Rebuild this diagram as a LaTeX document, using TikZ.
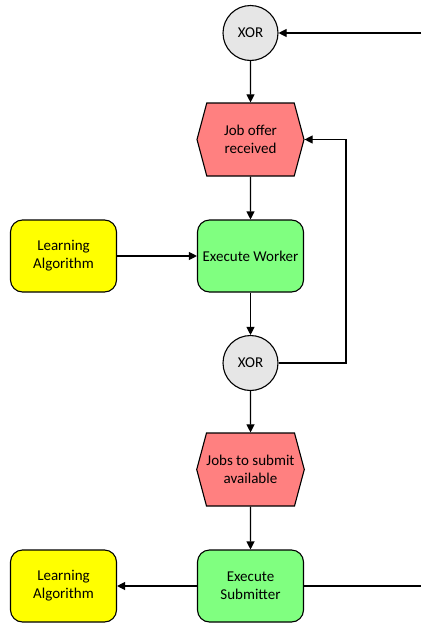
\documentclass[tikz,border=0pt]{standalone}
\usepackage{fontspec}
\setmainfont{Carlito}
\usetikzlibrary{positioning}
\usetikzlibrary{arrows.meta}
\usetikzlibrary{shapes.symbols}
\definecolor{xorgray}{HTML}{E6E6E6}
\definecolor{eventred}{HTML}{FF8080}
\definecolor{funcgreen}{HTML}{80FF80}
\definecolor{algoyellow}{HTML}{FFFF00}

\begin{document}
\begin{tikzpicture}[line width=1.1pt,
  xor/.style={circle,draw,fill=xorgray,minimum size=55pt,inner sep=0pt,font=\fontsize{15}{18}\selectfont},
  event/.style={signal,signal to=west and east,signal pointer angle=150,draw,fill=eventred,
    minimum width=107pt,minimum height=73pt,inner sep=0pt,align=center,font=\fontsize{15}{18}\selectfont},
  func/.style={rectangle,rounded corners=12pt,draw,fill=funcgreen,minimum width=106pt,minimum height=72pt,
    inner sep=1pt,align=center,font=\fontsize{15}{18}\selectfont},
  algo/.style={rectangle,rounded corners=12pt,draw,fill=algoyellow,minimum width=106pt,minimum height=72pt,
    inner sep=1pt,align=center,font=\fontsize{15}{18}\selectfont}]

  \useasboundingbox (0,0) rectangle (421pt,-624pt);

  % Hauptstrang
  \node[xor]   (XOR1) at (250.5pt,-33pt) {XOR};
  \node[event] (JOR)  [below=106.5pt of XOR1.center,anchor=center] {Job offer\\received};
  \node[func]  (EW)   [below=116.5pt of JOR.center,anchor=center] {Execute Worker};
  \node[xor]   (XOR2) [below=107pt of EW.center,anchor=center] {XOR};
  \node[event] (JSA)  [below=106.5pt of XOR2.center,anchor=center] {Jobs to submit\\available};
  \node[func]  (ES)   [below=116.5pt of JSA.center,anchor=center] {Execute\\Submitter};

  % Lernalgorithmen
  \node[algo] (LA1) [left=187pt of EW.center,anchor=center] {Learning\\Algorithm};
  \node[algo] (LA2) [left=187pt of ES.center,anchor=center] {Learning\\Algorithm};

  % freie Enden und Schleife
  \coordinate (in)   at (421pt,-33pt);
  \coordinate (out)  at (421pt,-586pt);
  \coordinate (loop) at (346pt,0);

  \path[->,>={Triangle[length=8pt,width=8pt]}]
    (in)   edge (XOR1)
    (XOR1) edge (JOR)
    (JOR)  edge (EW)
    (LA1)  edge (EW)
    (EW)   edge (XOR2)
    (XOR2) edge (JSA)
    (JSA)  edge (ES)
    (ES)   edge (LA2);

  \draw[->,>={Triangle[length=8pt,width=8pt]}]
    (XOR2.east) -| (loop |- JOR.east) -- (JOR.east);
  \draw (ES) -- (out);

\end{tikzpicture}
\end{document}
